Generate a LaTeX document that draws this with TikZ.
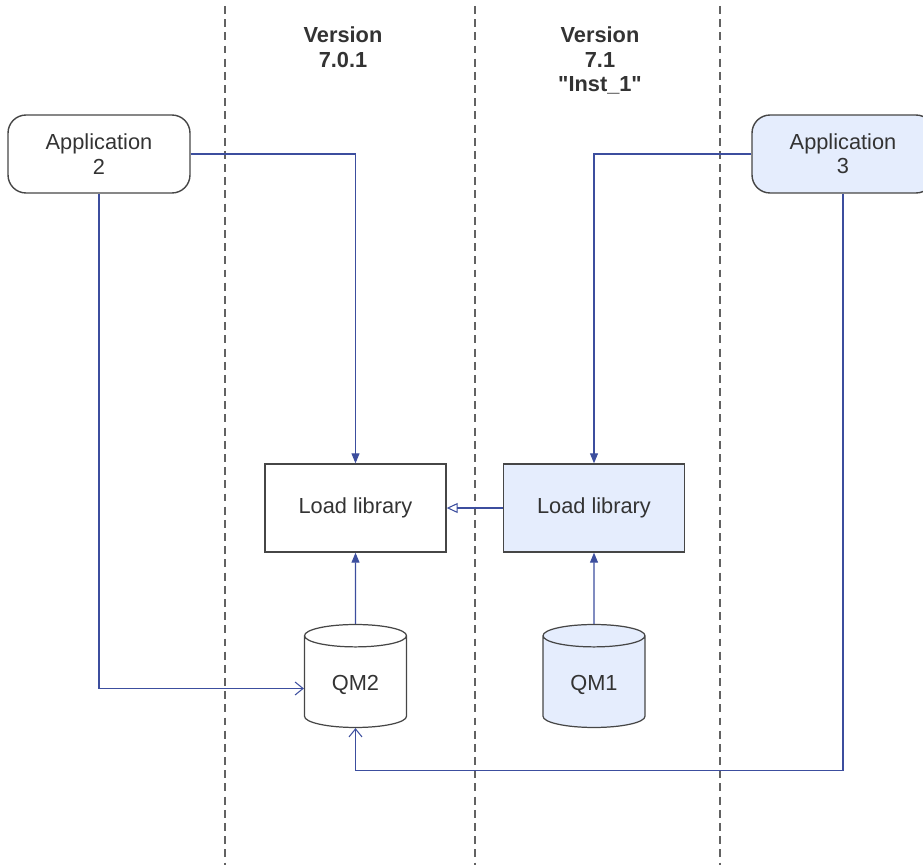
\documentclass[tikz,border=0pt]{standalone}
\usepackage{fontspec}
\setmainfont{Liberation Sans}[Ligatures=TeXOff]
\usepackage{xcolor}
\usepackage{tikz}
\usetikzlibrary{shapes,arrows.meta,positioning,calc}

\definecolor{linkblue}{RGB}{60,78,158}
\definecolor{boxfill}{RGB}{229,237,253}
\definecolor{textgray}{RGB}{51,51,51}
\definecolor{bordergray}{RGB}{70,70,70}

\begin{document}
\begin{tikzpicture}[x=0.02cm,y=-0.02cm,
    every node/.style={text=textgray,font=\fontsize{12.4}{13.8}\selectfont,align=center},
    app/.style={draw=bordergray,line width=0.8pt,rounded corners=0.36cm,minimum width=3.64cm,minimum height=1.56cm},
    lib/.style={draw=bordergray,line width=0.8pt,minimum width=3.62cm,minimum height=1.76cm},
    qm/.style={draw=bordergray,line width=0.7pt,cylinder,shape border rotate=90,aspect=0.38,minimum width=2.04cm,minimum height=2.06cm},
    link/.style={draw=linkblue,line width=0.6pt},
    version/.style={font=\bfseries\fontsize{12.4}{13.8}\selectfont}]
    \clip (0,0) rectangle (923,865);
    % draw the dashed separators between the versions
    \foreach \x in {225,475,720}
    {
        \draw[bordergray!85,line width=0.8pt,dash pattern=on 4.5pt off 3pt] (\x,6) -- (\x,865);
    }
    % version headings
    \node[version,anchor=north] (v701) at (343,21) {Version\\7.0.1};
    \node[version,anchor=north] (v71) at (600,21) {Version\\7.1\\"Inst\_1"};
    % applications
    \node[app] (app2) at (99,154) {Application\\2};
    \node[app,fill=boxfill] (app3) at (843,154) {Application\\3};
    % load libraries
    \node[lib] (lib2) at (355.5,508) {Load library};
    \node[lib,fill=boxfill] (lib1) at (594,508) {Load library};
    % queue managers
    \node[qm] (qm2) at (355.5,684.5) {QM2};
    \node[qm,fill=boxfill] (qm1) at (594,684.5) {QM1};
    % draw the connectors between them
    \draw[link,-{Triangle[length=2mm,width=1.6mm]}] (app2.east) -| (lib2.north);
    \draw[link,-{Triangle[length=2mm,width=1.6mm]}] (app3.west) -| (lib1.north);
    \draw[link,-{Triangle[length=2mm,width=1.6mm]}] (qm2.north) -- (lib2.south);
    \draw[link,-{Triangle[length=2mm,width=1.6mm]}] (qm1.north) -- (lib1.south);
    \draw[link,-{Triangle[open,length=2.2mm,width=2mm]}] (lib1.west) -- (lib2.east);
    \draw[link,-{Straight Barb[length=1.6mm,width=2.6mm]}] (app2.south) |- ([yshift=-0.08cm]qm2.west);
    \draw[link,-{Straight Barb[length=1.6mm,width=2.6mm]}] (app3.south) -- ++(0,577) -| (qm2.south);
\end{tikzpicture}
\end{document}
